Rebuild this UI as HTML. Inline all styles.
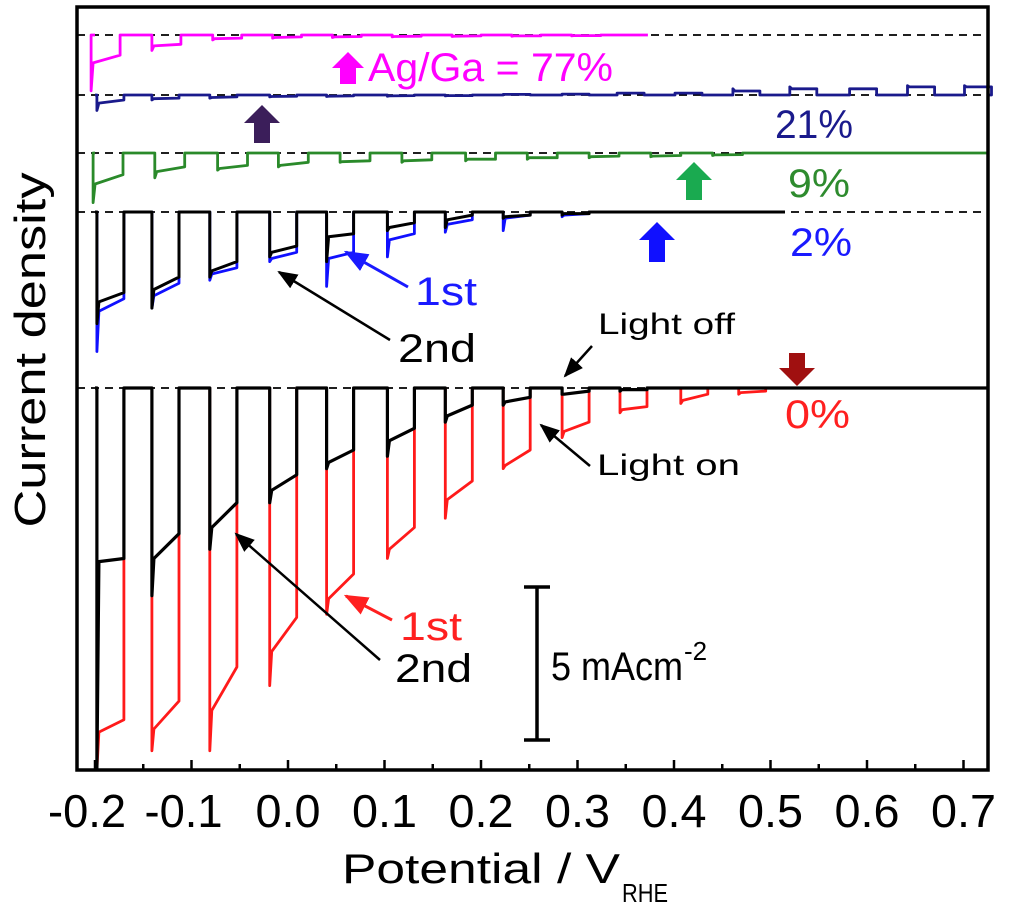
<!DOCTYPE html>
<html><head><meta charset="utf-8"><style>
html,body{margin:0;padding:0;background:#fff;}
svg{display:block;font-family:"Liberation Sans",Arial,sans-serif;}
</style></head><body>
<svg id="chart" width="1024" height="912" viewBox="0 0 1024 912" xmlns="http://www.w3.org/2000/svg">
<defs>
<marker id="ah" viewBox="0 0 10 10" refX="9" refY="5" markerWidth="8" markerHeight="8" orient="auto-start-reverse"><path d="M0,1 L10,5 L0,9 z" fill="context-stroke"/></marker>
</defs>
<g id="baselines"></g>
<g id="series"></g>
<g id="axes"></g>

<text x="0" y="0" transform="translate(45,350) rotate(-90)" text-anchor="middle" font-size="44" textLength="355" lengthAdjust="spacingAndGlyphs">Current density</text>
<text x="342" y="883" font-size="42" textLength="278" lengthAdjust="spacingAndGlyphs">Potential / V</text><text x="622" y="902" font-size="26" textLength="46" lengthAdjust="spacingAndGlyphs">RHE</text>

<!-- labels -->
<text x="368" y="81" font-size="40" fill="#ff00ff" textLength="245" lengthAdjust="spacingAndGlyphs">Ag/Ga = 77%</text>
<path d="M348,52 L364,68 L356,68 L356,84 L340,84 L340,68 L332,68 Z" fill="#ff00ff"/>
<text x="775" y="138" font-size="40" fill="#1a1a8c" textLength="78" lengthAdjust="spacingAndGlyphs">21%</text>
<path d="M262,105 L280,123 L270,123 L270,143 L254,143 L254,123 L244,123 Z" fill="#3b1e5a"/>
<text x="788" y="197" font-size="40" fill="#2e8b2e" textLength="62" lengthAdjust="spacingAndGlyphs">9%</text>
<path d="M694,162 L712,180 L702,180 L702,200 L686,200 L686,180 L676,180 Z" fill="#1aaa50"/>
<text x="790" y="256" font-size="40" fill="#1a1aff" textLength="62" lengthAdjust="spacingAndGlyphs">2%</text>
<path d="M657,222 L675,240 L665,240 L665,262 L649,262 L649,240 L639,240 Z" fill="#1010ff"/>
<text x="785" y="428" font-size="40" fill="#ff2020" textLength="65" lengthAdjust="spacingAndGlyphs">0%</text>
<path d="M797,386 L815,368 L805,368 L805,353 L789,353 L789,368 L779,368 Z" fill="#a01010"/>

<text x="415" y="305" font-size="40" fill="#1a1aff" textLength="62" lengthAdjust="spacingAndGlyphs">1st</text>
<line x1="408" y1="287" x2="346" y2="252" stroke="#1a1aff" stroke-width="3" marker-end="url(#ah)"/>
<text x="398" y="362" font-size="40" textLength="78" lengthAdjust="spacingAndGlyphs">2nd</text>
<line x1="390" y1="340" x2="279" y2="272" stroke="#000" stroke-width="2.5" marker-end="url(#ah)"/>
<text x="598" y="334" font-size="30" textLength="137" lengthAdjust="spacingAndGlyphs">Light off</text>
<line x1="592" y1="346" x2="565" y2="376" stroke="#000" stroke-width="2.5" marker-end="url(#ah)"/>
<text x="597" y="475" font-size="30" textLength="143" lengthAdjust="spacingAndGlyphs">Light on</text>
<line x1="590" y1="466" x2="541" y2="425" stroke="#000" stroke-width="2.5" marker-end="url(#ah)"/>
<text x="400" y="640" font-size="40" fill="#ff2020" textLength="62" lengthAdjust="spacingAndGlyphs">1st</text>
<line x1="392" y1="620" x2="346" y2="596" stroke="#ff2020" stroke-width="3" marker-end="url(#ah)"/>
<text x="395" y="682" font-size="40" textLength="77" lengthAdjust="spacingAndGlyphs">2nd</text>
<line x1="380" y1="660" x2="236" y2="534" stroke="#000" stroke-width="2.5" marker-end="url(#ah)"/>

<g stroke="#000" stroke-width="3.5">
<line x1="537" y1="587" x2="537" y2="740"/><line x1="524" y1="587" x2="550" y2="587"/><line x1="524" y1="740" x2="550" y2="740"/>
</g>
<text x="551" y="680" font-size="40" textLength="132" lengthAdjust="spacingAndGlyphs">5 mAcm</text><text x="684" y="660" font-size="26">-2</text>
</svg>
<script>
// Axis ticks
const xTicks = [-0.2,-0.1,0.0,0.1,0.2,0.3,0.4,0.5,0.6,0.7];
const xTickLabels = ["-0.2","-0.1","0.0","0.1","0.2","0.3","0.4","0.5","0.6","0.7"];
// Light-on start potentials (V) and current values (mA cm-2): spike, start, end for each pulse
const redStarts = [-0.198,-0.141,-0.081,-0.019,0.040,0.103,0.163,0.223,0.284,0.344,0.407,0.467];
const redSpike = [-12.3,-11.7,-11.7,-9.6,-7.3,-5.5,-4.2,-2.6,-1.6,-0.8,-0.5,-0.2];
const redStart = [-11.1,-11.0,-10.4,-8.5,-6.8,-5.2,-3.6,-2.5,-1.4,-0.7,-0.4,-0.15];
const redEnd = [-10.7,-10.1,-9.0,-7.4,-6.0,-4.5,-3.0,-2.0,-1.1,-0.6,-0.2,-0.1];
const blk0Starts = [-0.198,-0.141,-0.081,-0.019,0.040,0.103,0.163,0.223,0.284,0.344];
const blk0Spike = [-12.3,-6.7,-5.2,-3.7,-2.6,-2.2,-1.1,-0.55,-0.2,-0.1];
const blk0Start = [-5.6,-5.5,-4.5,-3.3,-2.4,-1.7,-0.9,-0.45,-0.2,-0.05];
const blk0End = [-5.5,-4.7,-3.7,-2.8,-2.0,-1.3,-0.55,-0.3,-0.1,-0.05];
const blk2Starts = [-0.198,-0.141,-0.081,-0.019,0.040,0.103,0.163,0.223,0.284];
const blk2Spike = [-3.6,-3.1,-2.1,-1.45,-1.6,-0.6,-0.5,-0.2,-0.1];
const blk2Start = [-2.9,-2.5,-1.9,-1.3,-0.8,-0.5,-0.25,-0.15,-0.05];
const blk2End = [-2.6,-2.1,-1.6,-1.1,-0.7,-0.35,-0.1,-0.1,-0.05];
const blu2Spike = [-4.5,-3.1,-2.2,-1.6,-2.4,-1.45,-0.65,-0.6,-0.15];
const blu2Start = [-3.2,-2.7,-2.0,-1.5,-1.5,-0.9,-0.4,-0.2,-0.1];
const blu2End = [-2.8,-2.3,-1.8,-1.3,-1.3,-0.7,-0.25,-0.1,-0.05];
const grnStarts = [-0.202,-0.138,-0.073,-0.010,0.054,0.118,0.184,0.248,0.312,0.376,0.440];
const grnSpike = [-1.6,-0.8,-0.55,-0.45,-0.3,-0.3,-0.25,-0.2,-0.15,-0.12,-0.08];
const grnStart = [-1.0,-0.6,-0.5,-0.4,-0.28,-0.25,-0.2,-0.15,-0.12,-0.1,-0.06];
const grnEnd = [-0.7,-0.45,-0.4,-0.3,-0.25,-0.22,-0.2,-0.15,-0.1,-0.08,-0.05];
const navStarts = [-0.198,-0.141,-0.081,-0.019,0.040,0.103,0.163,0.223,0.284,0.341,0.401,0.461,0.520,0.582,0.642,0.701];
const navSpike = [-0.5,-0.16,-0.1,-0.06,-0.05,-0.04,-0.03,0.02,0.03,0.06,0.06,0.2,0.26,0.2,0.3,0.3];
const navStart = [-0.26,-0.12,-0.08,-0.05,-0.04,-0.03,-0.02,0.02,0.03,0.06,0.06,0.13,0.2,0.2,0.26,0.26];
const navEnd = [-0.16,-0.1,-0.06,-0.04,-0.03,-0.02,-0.02,0.02,0.03,0.06,0.06,0.13,0.2,0.2,0.26,0.26];
const magStarts = [-0.204,-0.141,-0.078,-0.016,0.046,0.108,0.170,0.232,0.294];
const magSpike = [-1.8,-0.5,-0.16,-0.1,-0.08,-0.06,-0.05,-0.04,-0.03];
const magStart = [-0.9,-0.35,-0.12,-0.08,-0.06,-0.05,-0.04,-0.03,-0.02];
const magEnd = [-0.65,-0.3,-0.1,-0.06,-0.05,-0.04,-0.03,-0.03,-0.02];

const NS = "http://www.w3.org/2000/svg";
const X0 = 288, PXV = 965, PXMA = 31;
function xs(v){ return X0 + PXV * v; }
function ys(val, base){ return base - PXMA * val; }
const L = 77, R = 988, T = 7, B = 770;

function chopped(starts, spike, st, en, width, base, vEnd, color, name, sw){
  let d = "M" + xs(-0.2).toFixed(1) + "," + base;
  for (let i = 0; i < starts.length; i++){
    const s = starts[i], e = Math.min(s + width, vEnd);
    if (s >= vEnd) break;
    d += " L" + xs(s).toFixed(1) + "," + base;
    d += " L" + xs(s).toFixed(1) + "," + Math.min(ys(spike[i], base), B).toFixed(1);
    d += " L" + (xs(s)+2).toFixed(1) + "," + ys(st[i], base).toFixed(1);
    d += " L" + xs(e).toFixed(1) + "," + ys(en[i], base).toFixed(1);
    d += " L" + xs(e).toFixed(1) + "," + base;
  }
  d += " L" + Math.min(xs(vEnd), R).toFixed(1) + "," + base;
  const p = document.createElementNS(NS, "path");
  p.setAttribute("d", d);
  p.setAttribute("fill", "none");
  p.setAttribute("stroke", color);
  p.setAttribute("stroke-width", sw || 2.8);
  p.setAttribute("stroke-linejoin", "round");
  
  
  document.getElementById("series").appendChild(p);
}

// dashed baselines
const baseYs = [35, 95, 153, 212, 388];
const baseNames = ["baseline-77","baseline-21","baseline-9","baseline-2","baseline-0"];
baseYs.forEach((by, i) => {
  const l = document.createElementNS(NS, "line");
  l.setAttribute("x1", L); l.setAttribute("x2", R);
  l.setAttribute("y1", by); l.setAttribute("y2", by);
  l.setAttribute("stroke", "#000"); l.setAttribute("stroke-width", 1.8);
  l.setAttribute("stroke-dasharray", "8,6");
  
  
  document.getElementById("baselines").appendChild(l);
});

const W = 0.028;
chopped(magStarts, magSpike, magStart, magEnd, 0.03, 35, 0.373, "#ff00ff", "series-77pct");
chopped(navStarts, navSpike, navStart, navEnd, W, 95, 0.73, "#1a1a8c", "series-21pct");
chopped(grnStarts, grnSpike, grnStart, grnEnd, 0.031, 153, 0.73, "#2a8a2a", "series-9pct");
chopped(blk2Starts, blu2Spike, blu2Start, blu2End, W, 212, 0.51, "#1010ff", "series-2pct-1st");
chopped(blk2Starts, blk2Spike, blk2Start, blk2End, W, 212, 0.515, "#000", "series-2pct-2nd", 3);
chopped(redStarts, redSpike, redStart, redEnd, W, 388, 0.73, "#ff1a1a", "series-0pct-1st");
chopped(blk0Starts, blk0Spike, blk0Start, blk0End, W, 388, 0.73, "#000", "series-0pct-2nd", 3.2);

// axes frame
const ax = document.getElementById("axes");
const fr = document.createElementNS(NS, "rect");
fr.setAttribute("x", L); fr.setAttribute("y", T); fr.setAttribute("width", R-L); fr.setAttribute("height", B-T);
fr.setAttribute("fill", "none"); fr.setAttribute("stroke", "#000"); fr.setAttribute("stroke-width", 3.5);


ax.appendChild(fr);
xTicks.forEach((v, i) => {
  const t = document.createElementNS(NS, "line");
  t.setAttribute("x1", xs(v)); t.setAttribute("x2", xs(v));
  t.setAttribute("y1", B); t.setAttribute("y2", B-10);
  t.setAttribute("stroke", "#000"); t.setAttribute("stroke-width", 2.5);
  
  
  ax.appendChild(t);
  const mv = v + 0.05;
  if (xs(mv) < R) {
    const m = document.createElementNS(NS, "line");
    m.setAttribute("x1", xs(mv)); m.setAttribute("x2", xs(mv));
    m.setAttribute("y1", B); m.setAttribute("y2", B-6);
    m.setAttribute("stroke", "#000"); m.setAttribute("stroke-width", 2.5);
    
    
    ax.appendChild(m);
  }
  const tx = document.createElementNS(NS, "text");
  tx.setAttribute("x", xs(v) - (v < 0 ? 8 : 0)); tx.setAttribute("y", 827);
  tx.setAttribute("text-anchor", "middle"); tx.setAttribute("font-size", 46);
  tx.setAttribute("textLength", v < 0 ? 78 : 65);
  tx.setAttribute("lengthAdjust", "spacingAndGlyphs");
  tx.textContent = xTickLabels[i];
  
  
  ax.appendChild(tx);
});
</script>
</body></html>
